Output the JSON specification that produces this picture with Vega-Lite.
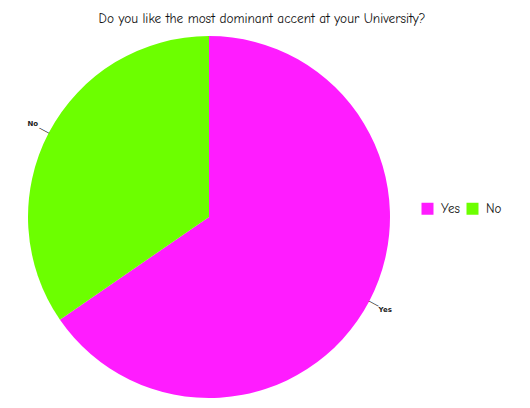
{
  "$schema": "https://vega.github.io/schema/vega-lite/v6.json",
  "autosize": {"type": "none"},
  "width": 418,
  "height": 354,
  "padding": {"left": 0, "top": 40, "right": 112, "bottom": 14},
  "background": "white",
  "title": {
    "text": "Do you like the most dominant accent at your University?",
    "fontSize": 13.3,
    "fontWeight": "normal",
    "font": "Comic Sans MS, Comic Neue, DejaVu Sans",
    "color": "#111111",
    "dx": 53,
    "offset": 11
  },
  "config": {"view": {"stroke": null}},
  "data": {
    "values": [
      {"answer": "Yes", "value": 65.4},
      {"answer": "No", "value": 34.6}
    ]
  },
  "encoding": {
    "theta": {"field": "value", "type": "quantitative", "stack": true},
    "order": {"field": "value", "type": "quantitative", "sort": "descending"}
  },
  "layer": [
    {
      "mark": {"type": "arc", "outerRadius": 181},
      "encoding": {
        "color": {
          "field": "answer",
          "type": "nominal",
          "scale": {"domain": ["Yes", "No"], "range": ["#ff1cff", "#6cff00"]},
          "legend": {
            "orient": "none",
            "legendX": 421,
            "legendY": 162,
            "direction": "horizontal",
            "title": null,
            "symbolType": "square",
            "symbolSize": 144,
            "symbolStrokeWidth": 0,
            "symbolOpacity": 1,
            "labelFontSize": 13,
            "labelFont": "Comic Sans MS, Comic Neue, DejaVu Sans",
            "labelColor": "#111111",
            "labelOffset": 7,
            "columnPadding": 6
          }
        }
      }
    },
    {
      "mark": {"type": "text", "radius": 186, "text": "—", "angle": 28, "fontSize": 11, "color": "#222222"}
    },
    {
      "mark": {"type": "text", "radius": 199, "fontSize": 7, "fontWeight": "bold", "color": "#222222", "font": "DejaVu Sans"},
      "encoding": {"text": {"field": "answer"}}
    }
  ]
}
